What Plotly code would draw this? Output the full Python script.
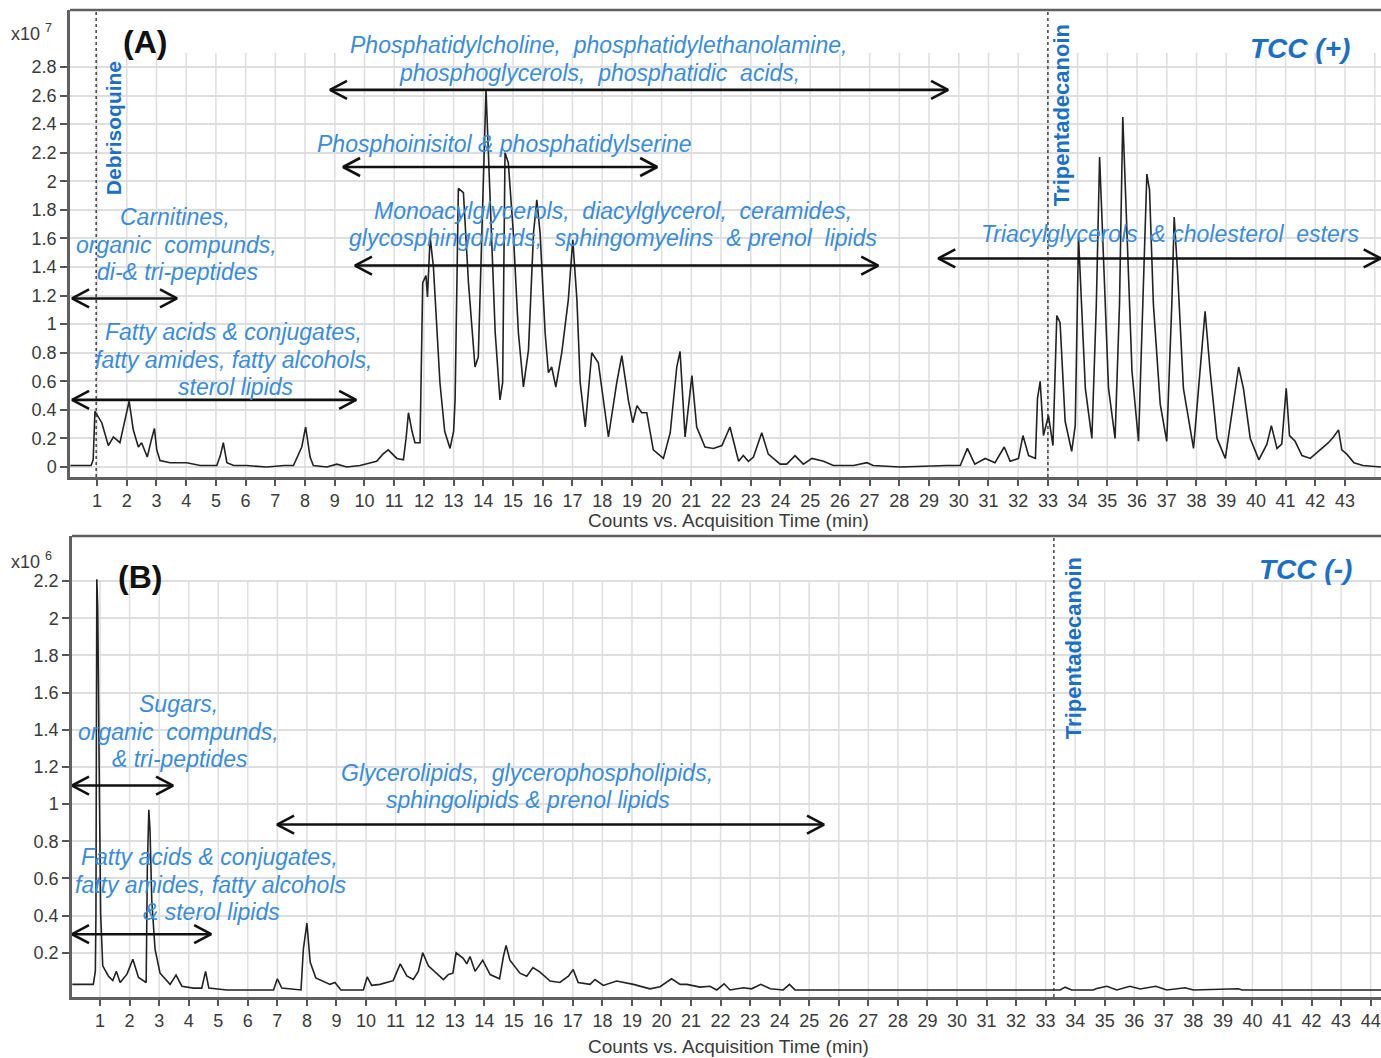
import plotly.graph_objects as go

# ---------------- data: panel A, TCC (+), counts x10^7 ----------------
time_a = [0.10, 0.50, 0.80, 0.87, 0.93, 1.16, 1.38, 1.55, 1.77, 1.94, 2.08, 2.22, 2.39, 2.50, 2.69,
          2.84, 2.93, 3.01, 3.12, 3.46, 3.80, 4.02, 4.47, 5.03, 5.15, 5.25, 5.37, 5.60, 6.04, 6.71,
          7.30, 7.61, 7.89, 8.02, 8.17, 8.28, 8.73, 9.07, 9.40, 9.85, 10.41, 10.62, 10.80, 11.09,
          11.31, 11.40, 11.48, 11.60, 11.70, 11.87, 11.96, 12.07, 12.12, 12.21, 12.32, 12.54, 12.70,
          12.88, 13.00, 13.05, 13.16, 13.33, 13.50, 13.72, 13.83, 13.95, 14.09, 14.23, 14.40, 14.56,
          14.65, 14.73, 14.84, 15.01, 15.18, 15.35, 15.52, 15.69, 15.80, 15.91, 16.08, 16.19, 16.30,
          16.44, 16.64, 16.86, 17.01, 17.15, 17.26, 17.43, 17.65, 17.87, 18.21, 18.49, 18.66, 18.88,
          19.03, 19.17, 19.33, 19.50, 19.72, 20.06, 20.29, 20.51, 20.62, 20.79, 21.02, 21.18, 21.46,
          21.74, 22.03, 22.30, 22.47, 22.59, 22.75, 22.92, 23.09, 23.37, 23.59, 23.99, 24.21, 24.49,
          24.77, 25.06, 25.45, 25.78, 26.46, 26.91, 27.12, 28.03, 29.60, 30.05, 30.29, 30.54, 30.89,
          31.22, 31.53, 31.73, 32.01, 32.16, 32.35, 32.58, 32.65, 32.74, 32.85, 33.02, 33.17, 33.30,
          33.41, 33.58, 33.80, 33.92, 34.03, 34.12, 34.26, 34.48, 34.63, 34.74, 34.85, 35.04, 35.26,
          35.41, 35.52, 35.63, 35.83, 36.05, 36.24, 36.33, 36.42, 36.55, 36.78, 37.00, 37.17, 37.25,
          37.36, 37.56, 37.90, 38.13, 38.29, 38.46, 38.69, 38.97, 39.25, 39.42, 39.58, 39.81, 40.10,
          40.37, 40.52, 40.71, 40.87, 41.02, 41.13, 41.32, 41.55, 41.83, 42.16, 42.44, 42.61, 42.78,
          42.89, 43.06, 43.30, 43.60, 44.20]
counts_a = [0.01, 0.01, 0.01, 0.05, 0.39, 0.31, 0.15, 0.21, 0.17, 0.33, 0.46, 0.26, 0.14, 0.17, 0.07,
            0.20, 0.27, 0.12, 0.045, 0.03, 0.03, 0.03, 0.01, 0.01, 0.08, 0.17, 0.03, 0.01, 0.01, 0.00,
            0.01, 0.01, 0.14, 0.28, 0.07, 0.01, 0.00, 0.02, 0.00, 0.01, 0.04, 0.09, 0.12, 0.06,
            0.05, 0.20, 0.38, 0.25, 0.17, 0.17, 1.29, 1.34, 1.19, 1.61, 1.40, 0.59, 0.25,
            0.13, 0.25, 0.47, 1.95, 1.92, 1.29, 0.70, 0.77, 1.64, 2.64, 1.87, 0.94, 0.47,
            0.59, 2.20, 2.13, 1.64, 0.94, 0.56, 0.82, 1.64, 1.87, 1.64, 0.94, 0.66, 0.70,
            0.56, 0.80, 1.17, 1.59, 1.17, 0.59, 0.28, 0.80, 0.73, 0.21, 0.59, 0.78, 0.47,
            0.31, 0.43, 0.38, 0.38, 0.12, 0.06, 0.24, 0.70, 0.81, 0.21, 0.64, 0.28, 0.14,
            0.13, 0.15, 0.28, 0.14, 0.04, 0.08, 0.04, 0.07, 0.24, 0.09, 0.02, 0.02, 0.08,
            0.02, 0.06, 0.04, 0.01, 0.01, 0.03, 0.01, 0.00, 0.01, 0.01, 0.13, 0.02, 0.06,
            0.03, 0.14, 0.04, 0.06, 0.22, 0.08, 0.06, 0.48, 0.60, 0.22, 0.36, 0.15, 1.06,
            1.01, 0.32, 0.11, 0.29, 1.61, 1.21, 0.55, 0.20, 1.14, 2.17, 1.61, 0.55, 0.20,
            1.14, 2.45, 1.85, 0.67, 0.18, 1.38, 2.05, 1.94, 1.14, 0.44, 0.18, 1.14, 1.75,
            1.38, 0.55, 0.13, 0.67, 1.09, 0.67, 0.20, 0.06, 0.44, 0.70, 0.55, 0.20, 0.05,
            0.16, 0.29, 0.13, 0.16, 0.55, 0.22, 0.18, 0.08, 0.06, 0.12, 0.17, 0.21, 0.26,
            0.12, 0.09, 0.03, 0.01, 0.00]

# ---------------- data: panel B, TCC (-), counts x10^6 ----------------
time_b = [0.06, 0.77, 0.84, 0.86, 0.89, 0.92, 0.98, 1.02, 1.09, 1.28, 1.43, 1.55, 1.68, 1.91, 2.11,
          2.30, 2.56, 2.60, 2.65, 2.69, 2.75, 2.86, 3.03, 3.20, 3.37, 3.57, 3.77, 4.16, 4.44, 4.57,
          4.68, 5.29, 6.87, 7.00, 7.15, 7.80, 7.88, 8.00, 8.11, 8.30, 8.61, 8.78, 8.95, 9.15, 9.91,
          10.04, 10.19, 10.47, 10.92, 11.16, 11.38, 11.60, 11.77, 11.92, 12.11, 12.33, 12.62, 12.79,
          12.94, 13.05, 13.29, 13.41, 13.52, 13.69, 13.95, 14.20, 14.52, 14.65, 14.74, 14.87, 15.21,
          15.44, 15.65, 15.89, 16.23, 16.56, 16.85, 17.01, 17.18, 17.58, 17.75, 18.03, 18.48, 19.05,
          19.61, 19.95, 20.34, 20.63, 20.86, 21.30, 21.64, 21.87, 22.12, 22.32, 22.77, 23.05, 23.36,
          23.68, 24.12, 24.33, 24.52, 33.49, 33.66, 33.88, 34.61, 34.73, 35.07, 35.41, 35.85, 36.20,
          36.48, 36.73, 37.10, 37.72, 38.00, 38.79, 39.52, 39.65, 44.35]
counts_b = [0.03, 0.03, 0.10, 0.40, 2.21, 2.06, 1.02, 0.41, 0.13, 0.075, 0.05, 0.10, 0.04, 0.085, 0.165,
            0.067, 0.04, 0.66, 0.97, 0.86, 0.48, 0.22, 0.09, 0.06, 0.03, 0.08, 0.02, 0.01, 0.01, 0.10,
            0.01, 0.00, 0.00, 0.06, 0.01, 0.00, 0.22, 0.36, 0.15, 0.065, 0.045, 0.03, 0.04, 0.00, 0.00,
            0.07, 0.025, 0.03, 0.05, 0.14, 0.075, 0.056, 0.10, 0.20, 0.13, 0.10, 0.056, 0.083,
            0.09, 0.20, 0.17, 0.14, 0.18, 0.10, 0.16, 0.083, 0.06, 0.18, 0.24, 0.16, 0.09,
            0.074, 0.12, 0.096, 0.048, 0.04, 0.074, 0.11, 0.04, 0.03, 0.056, 0.024, 0.048, 0.03,
            0.006, 0.017, 0.06, 0.03, 0.03, 0.015, 0.02, 0.00, 0.033, 0.00, 0.012, 0.006, 0.03,
            0.006, 0.00, 0.03, 0.00, 0.00, 0.015, 0.00, 0.00, 0.008, 0.02, 0.00, 0.02, 0.005,
            0.012, 0.02, 0.00, 0.012, 0.00, 0.005, 0.006, 0.00, 0.00]

# ticks
xticks_a = list(range(1, 44))
xticks_b = list(range(1, 45))
yticks_a = [0, 0.2, 0.4, 0.6, 0.8, 1, 1.2, 1.4, 1.6, 1.8, 2, 2.2, 2.4, 2.6, 2.8]
ylabels_a = ["0", "0.2", "0.4", "0.6", "0.8", "1", "1.2", "1.4", "1.6", "1.8", "2", "2.2", "2.4", "2.6", "2.8"]
yticks_b = [0.2, 0.4, 0.6, 0.8, 1, 1.2, 1.4, 1.6, 1.8, 2, 2.2]
ylabels_b = ["0.2", "0.4", "0.6", "0.8", "1", "1.2", "1.4", "1.6", "1.8", "2", "2.2"]

# internal standards (retention time, min)
debrisoquine_a = 0.97
tripentadecanoin_a = 33.0
tripentadecanoin_b = 33.28

# compound-class retention windows (start, end, drawn level)
win_a_start = [8.84, 9.28, 9.68, 0.16, 0.16, 29.31]
win_a_end = [29.64, 19.85, 27.29, 3.69, 9.72, 44.20]
win_a_level = [2.64, 2.10, 1.41, 1.18, 0.47, 1.46]
win_b_start = [0.05, 6.99, 0.05]
win_b_end = [3.47, 25.50, 4.76]
win_b_level = [1.10, 0.89, 0.30]

# ---------------- layout geometry ----------------
W, H = 1381, 1058
FONT = "Liberation Sans, Arial, sans-serif"
BLUE = "#3a8cd8"
DBLUE = "#1b70c6"
GRID = "#dedede"
FRAME = "#606060"

xr_a = [0.09, 44.21]
yr_a = [-0.07, 3.199]
xr_b = [0.05, 44.35]
yr_b = [-0.038, 2.443]
dom_x_a = [70 / W, 1]
dom_x_b = [72 / W, 1]
dom_y_a = [1 - 477 / H, 1 - 10 / H]
dom_y_b = [1 - 997 / H, 1 - 536 / H]

fig = go.Figure()
fig.add_trace(go.Scatter(x=time_a, y=counts_a, mode="lines", line=dict(color="#222", width=1.6),
                         xaxis="x", yaxis="y", hoverinfo="skip"))
fig.add_trace(go.Scatter(x=time_b, y=counts_b, mode="lines", line=dict(color="#222", width=1.6),
                         xaxis="x2", yaxis="y2", hoverinfo="skip"))


def px_per_unit(dom, rng, total):
    return (dom[1] - dom[0]) * total / (rng[1] - rng[0])


def add_arrows(starts, ends, levels, xa, ya, xdom, xr, ydom, yr):
    sx = px_per_unit(xdom, xr, W)
    sy = px_per_unit(ydom, yr, H)
    dx = 17 / sx
    dy = 9 / sy
    for s, e, l in zip(starts, ends, levels):
        fig.add_trace(go.Scatter(
            x=[s + dx, s, s + dx, None, s, e, None, e - dx, e, e - dx],
            y=[l + dy, l, l - dy, None, l, l, None, l + dy, l, l - dy],
            mode="lines", line=dict(color="#111", width=2.6), xaxis=xa, yaxis=ya,
            cliponaxis=False, hoverinfo="skip"))


add_arrows(win_a_start, win_a_end, win_a_level, "x", "y", dom_x_a, xr_a, dom_y_a, yr_a)
add_arrows(win_b_start, win_b_end, win_b_level, "x2", "y2", dom_x_b, xr_b, dom_y_b, yr_b)

tickfont = dict(family=FONT, size=18, color="#3a3a3a")
common_x = dict(ticks="outside", ticklen=6, tickwidth=1.5, tickcolor="#555", showline=True,
                linecolor=FRAME, linewidth=2.5, showgrid=False, zeroline=False, tickfont=tickfont,
                automargin=False, fixedrange=True)
common_y = dict(ticks="outside", ticklen=7, tickwidth=1.5, tickcolor="#555", showline=True,
                linecolor=FRAME, linewidth=2.5, showgrid=True, gridcolor=GRID, gridwidth=1.5,
                zeroline=False, tickfont=tickfont, automargin=False, fixedrange=True)

fig.update_layout(
    width=W, height=H, margin=dict(l=0, r=0, t=0, b=0),
    paper_bgcolor="white", plot_bgcolor="white", showlegend=False,
    font=dict(family=FONT),
    xaxis=dict(domain=dom_x_a, range=xr_a, tickvals=xticks_a, anchor="y", **common_x),
    yaxis=dict(domain=dom_y_a, range=yr_a, tickvals=yticks_a, ticktext=ylabels_a, anchor="x", **common_y),
    xaxis2=dict(domain=dom_x_b, range=xr_b, tickvals=xticks_b, anchor="y2", **common_x),
    yaxis2=dict(domain=dom_y_b, range=yr_b, tickvals=yticks_b, ticktext=ylabels_b, anchor="x2", **common_y),
)

shapes = []
# vertical grid lines (one per minute, stopping at the top of the grid)
for t in range(1, 45):
    shapes.append(dict(type="line", xref="x", yref="y", x0=t, x1=t, y0=yr_a[0], y1=2.9,
                       line=dict(color=GRID, width=1.5), layer="below"))
    shapes.append(dict(type="line", xref="x2", yref="y2", x0=t, x1=t, y0=yr_b[0], y1=2.2,
                       line=dict(color=GRID, width=1.5), layer="below"))
# top frame lines
for xa, ya in (("x", "y"), ("x2", "y2")):
    shapes.append(dict(type="line", xref=f"{xa} domain", yref=f"{ya} domain", x0=0, x1=1, y0=1, y1=1,
                       line=dict(color=FRAME, width=2.5)))
# internal-standard markers
for xa, ya, t in (("x", "y", debrisoquine_a), ("x", "y", tripentadecanoin_a), ("x2", "y2", tripentadecanoin_b)):
    shapes.append(dict(type="line", xref=xa, yref=f"{ya} domain", x0=t, x1=t, y0=0, y1=1,
                       line=dict(color="#333", width=1.4, dash="dot")))
fig.update_layout(shapes=shapes)

NB = "\u00a0"
ann = []


def txt(xa, ya, x, y, text, size=23, color=BLUE, italic=True, bold=False, angle=0):
    t = text
    if italic:
        t = f"<i>{t}</i>"
    if bold:
        t = f"<b>{t}</b>"
    ann.append(dict(xref=xa, yref=ya, x=x, y=y, text=t, showarrow=False, xanchor="center",
                    yanchor="middle", textangle=angle, font=dict(family=FONT, size=size, color=color)))


# panel A labels
txt("x", "y", 17.86, 2.954, f"Phosphatidylcholine,{NB} phosphatidylethanolamine,")
txt("x", "y", 17.90, 2.758, f"phosphoglycerols,{NB} phosphatidic{NB} acids,")
txt("x", "y", 14.72, 2.261, "Phosphoinisitol & phosphatidylserine")
txt("x", "y", 18.38, 1.792, f"Monoacylglycerols,{NB} diacylglycerol,{NB} ceramides,")
txt("x", "y", 18.38, 1.603, f"glycosphingolipids,{NB} sphingomyelins{NB} &{NB}prenol{NB} lipids")
txt("x", "y", 3.64, 1.750, "Carnitines,")
txt("x", "y", 3.68, 1.554, f"organic{NB} compunds,")
txt("x", "y", 3.71, 1.365, "di-& tri-peptides")
txt("x", "y", 5.58, 0.945, "Fatty acids & conjugates,")
txt("x", "y", 5.59, 0.749, "fatty amides, fatty alcohols,")
txt("x", "y", 5.66, 0.560, "sterol lipids")
txt("x", "y", 37.10, 1.631, f"Triacylglycerols{NB} &{NB}cholesterol{NB} esters")
txt("x", "y", 41.49, 2.926, "TCC (+)", size=28, color=DBLUE, bold=True)
txt("x", "y", 2.615, 2.975, "(A)", size=32, color="#111", italic=False, bold=True)
txt("x", "y", 1.575, 2.373, "Debrisoquine", size=21, color=DBLUE, italic=False, bold=True, angle=-90)
txt("x", "y", 33.48, 2.464, "Tripentadecanoin", size=22, color=DBLUE, italic=False, bold=True, angle=-90)

# panel B labels
txt("x2", "y2", 2.34, 2.222, "(B)", size=32, color="#111", italic=False, bold=True)
txt("x2", "y2", 41.78, 2.265, "TCC (-)", size=28, color=DBLUE, bold=True)
txt("x2", "y2", 33.93, 1.840, "Tripentadecanoin", size=22, color=DBLUE, italic=False, bold=True, angle=-90)
txt("x2", "y2", 3.67, 1.539, "Sugars,")
txt("x2", "y2", 3.64, 1.388, f"organic{NB} compunds,")
txt("x2", "y2", 3.69, 1.243, "& tri-peptides")
txt("x2", "y2", 15.45, 1.167, f"Glycerolipids,{NB} glycerophospholipids,")
txt("x2", "y2", 15.48, 1.022, "sphingolipids & prenol lipids")
txt("x2", "y2", 4.72, 0.715, "Fatty acids & conjugates,")
txt("x2", "y2", 4.74, 0.565, "fatty amides, fatty alcohols")
txt("x2", "y2", 4.77, 0.419, "& sterol lipids")

# exponent labels and axis titles
for y_px, exp in ((33, 7), (560, 6)):
    ann.append(dict(xref="paper", yref="paper", x=32 / W, y=1 - y_px / H, text=f"x10 <sup>{exp}</sup>",
                    showarrow=False, xanchor="center", yanchor="middle",
                    font=dict(family=FONT, size=18, color="#3a3a3a")))
for y_px in (520, 1046):
    ann.append(dict(xref="paper", yref="paper", x=729 / W, y=1 - y_px / H,
                    text="Counts vs. Acquisition Time (min)", showarrow=False, xanchor="center",
                    yanchor="middle", font=dict(family=FONT, size=19, color="#3a3a3a")))

fig.update_layout(annotations=ann)
fig.write_html("out.html", config={"displayModeBar": False},
               post_script="document.body.style.margin='0';document.body.style.overflow='hidden';")
